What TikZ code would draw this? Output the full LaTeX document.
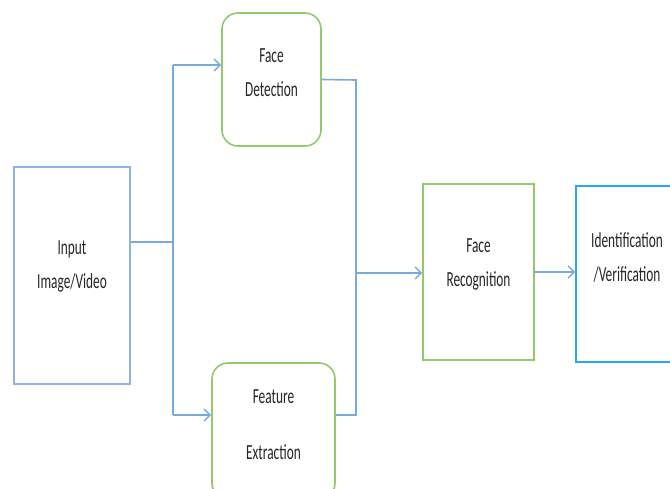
\documentclass[tikz,border=0pt]{standalone}
\usepackage{fontspec}
\setmainfont{Carlito}[FakeStretch=0.62]
\usepackage{xcolor}
\usepackage{tikz}
\usetikzlibrary{arrows.meta}

\definecolor{lineblue}{RGB}{120,170,222}
\definecolor{boxblue}{RGB}{140,180,228}
\definecolor{boxgreen}{RGB}{150,200,110}
\definecolor{boxcyan}{RGB}{40,170,235}

\tikzset{
  box/.style={shape=rectangle,line width=1.6pt},
  txt/.style={align=center,text=black!85,font=\fontsize{21.5}{34}\selectfont},
  link/.style={draw=lineblue,line width=1.6pt},
  arr/.style={link,-{Straight Barb[length=6pt,width=12pt,line width=1.4pt]}}
}

\begin{document}
\begin{tikzpicture}[x=1pt,y=-1pt]
    \clip (0,0) rectangle (670,488);
    \node[box,draw=boxblue,minimum width=116pt,minimum height=217pt,
      label={[txt,yshift=9pt]center:Input\\Image/Video}] (in) at (72,275.5) {};
    \node[box,draw=boxgreen,rounded corners=16pt,minimum width=99pt,minimum height=133pt,
      label={[txt,yshift=7pt]center:Face\\Detection}] (det) at (271.5,79.5) {};
    \node[box,draw=boxgreen,rounded corners=16pt,minimum width=123pt,minimum height=136pt,
      label={[txt,yshift=6pt]center:Feature\\[22pt]Extraction}] (feat) at (273.5,431) {};
    \node[box,draw=boxgreen,minimum width=111pt,minimum height=176pt,
      label={[txt,yshift=8pt]center:Face\\Recognition}] (rec) at (478.5,272) {};
    \node[box,draw=boxcyan,minimum width=102pt,minimum height=176pt,
      label={[txt,yshift=17pt]center:Identification\\/Verification}] (ident) at (627,274) {};

    \coordinate (j1) at (173,242);
    \coordinate (top) at (173,65);
    \coordinate (bot) at (173,415);
    \coordinate (j2) at (356,80);
    \coordinate (j3) at (356,415);
    \coordinate (j4) at (356,273);

    % split from input
    \draw [link] (in.east |- j1) -- (j1);
    \draw [link] (top) -- (bot);
    \draw [arr] (top) -- (top -| det.west);
    \draw [arr] (bot) -- (bot -| feat.west);
    % join into recognition
    \draw [link] (det.east) -- (j2) -- (j3) -- (j3 -| feat.east);
    \draw [arr] (j4) -- (j4 -| rec.west);
    \draw [arr] (rec.east) -- (rec.east -| ident.west);
\end{tikzpicture}
\end{document}
